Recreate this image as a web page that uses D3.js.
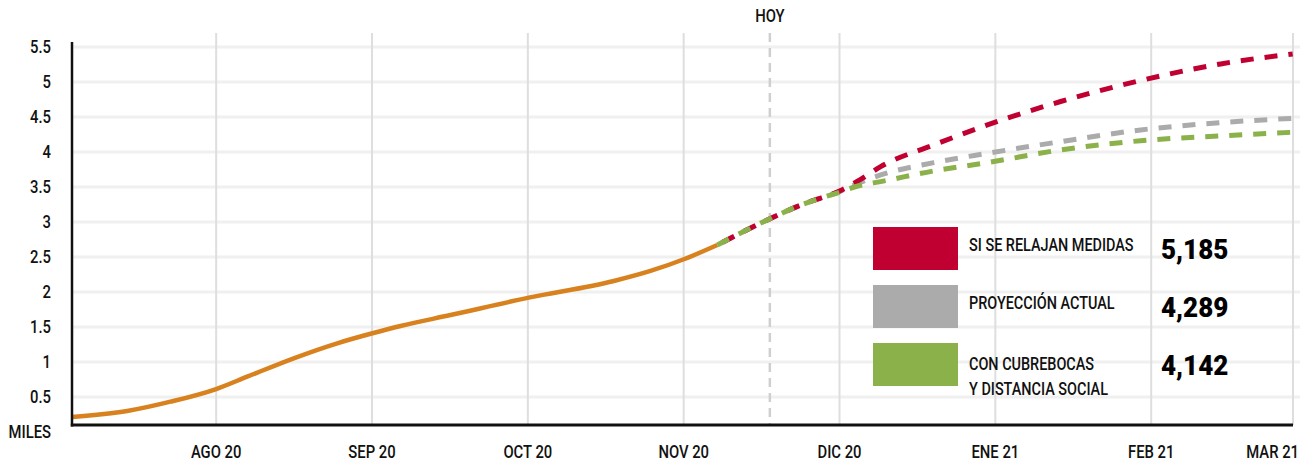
<!DOCTYPE html>
<html><head><meta charset="utf-8">
<script src="https://cdn.jsdelivr.net/npm/d3@7"></script>
<style>
html,body{margin:0;padding:0;background:#fff;}
svg text{font-family:Roboto,"DejaVu Sans Condensed",sans-serif;font-weight:500;fill:#111;}
</style></head>
<body><svg id="c" width="1300" height="462"></svg>
<script>
// ---- data (x values are months relative to AGO 20 = 0) ----
const monthLabels = ["AGO 20","SEP 20","OCT 20","NOV 20","DIC 20","ENE 21","FEB 21","MAR 21"];
const yTicks = [0.5,1,1.5,2,2.5,3,3.5,4,4.5,5,5.5];
const yTickLabels = ["0.5","1","1.5","2","2.5","3","3.5","4","4.5","5","5.5"];
const yUnit = "MILES";
const todayMonth = 3.553;
const todayLabel = "HOY";
const histMonths = [-0.925,-0.571,-0.293,0,0.199,0.498,0.777,1.003,1.183,1.504,2.006,2.552,2.787,3.001,3.216];
const histValues = [0.215,0.30,0.433,0.614,0.79,1.053,1.267,1.41,1.514,1.67,1.919,2.157,2.30,2.467,2.671];
const projMonths = [3.216,3.537,3.75,4.007,4.13,4.264,4.605,4.949,5.419,5.932,6.446,6.908];
const relaxValues = [2.671,3.029,3.24,3.45,3.60,3.79,4.10,4.386,4.72,5.02,5.257,5.40];
const currentValues = [2.671,3.029,3.24,3.44,3.56,3.671,3.847,3.98,4.147,4.314,4.419,4.48];
const maskValues = [2.671,3.029,3.24,3.43,3.52,3.576,3.729,3.847,4.029,4.16,4.229,4.281];
const seriesNames = ["SI SE RELAJAN MEDIDAS","PROYECCIÓN ACTUAL","CON CUBREBOCAS\nY DISTANCIA SOCIAL"];
const seriesTotals = ["5,185","4,289","4,142"];

// ---- layout ----
const svg = d3.select("#c");
const L = 72, R = 1293, B = 425, T = 42;
const SX = 0.78; // horizontal condensing of text
const x = d3.scaleLinear().domain([-0.925, 6.91]).range([L, R]);
const y = d3.scaleLinear().domain([0.1, 5.57]).range([B, T]);
const colors = {hist:"#d8821f", relax:"#bf0030", current:"#ababab", mask:"#8bb14a"};

function txt(g, tx, ty, s, size, anchor, sx){
  return g.append("text")
    .attr("transform", `translate(${tx},${ty}) scale(${sx===undefined?SX:sx},1)`)
    .attr("text-anchor", anchor || "start").attr("font-size", size).text(s);
}

// horizontal grid
svg.append("g").selectAll("line").data(yTicks).join("line")
  .attr("x1", L).attr("x2", 1300).attr("y1", d=>y(d)).attr("y2", d=>y(d))
  .attr("stroke", "#f0f0f0").attr("stroke-width", 3);

// vertical grid (months + end)
const xTickVals = monthLabels.map((m,i)=> i < monthLabels.length-1 ? i : x.domain()[1]);
svg.append("g").selectAll("line").data(xTickVals).join("line")
  .attr("x1", d=>x(d)).attr("x2", d=>x(d)).attr("y1", 33).attr("y2", B)
  .attr("stroke", "#dedede").attr("stroke-width", 2);

// today line
svg.append("line").attr("x1", x(todayMonth)).attr("x2", x(todayMonth)).attr("y1", 33).attr("y2", B)
  .attr("stroke", "#cfcfcf").attr("stroke-width", 2.5).attr("stroke-dasharray", "9,6");
const tg = svg.append("g");
txt(tg, x(todayMonth), 21.5, todayLabel, 19, "middle");

// y labels
const yg = svg.append("g");
yTicks.forEach((d,i)=> txt(yg, 51, y(d)+6.5, yTickLabels[i], 19, "end"));
txt(yg, 51, 438, yUnit, 19, "end");

// x labels
const xg = svg.append("g");
xTickVals.forEach((d,i)=>{
  const last = i === monthLabels.length-1;
  txt(xg, last ? x(d)+6 : x(d), 457.5, monthLabels[i], 19, last ? "end" : "middle");
});

// lines
const line = d3.line().x(d=>x(d[0])).y(d=>y(d[1])).curve(d3.curveMonotoneX);
svg.append("path").datum(histMonths.map((m,i)=>[m,histValues[i]]))
  .attr("d", line).attr("fill","none").attr("stroke", colors.hist).attr("stroke-width", 4.5);
const proj = [
  {vals: currentValues, c: colors.current, off: -4},
  {vals: relaxValues, c: colors.relax, off: -6},
  {vals: maskValues, c: colors.mask, off: 0}
];
proj.forEach(p=>{
  svg.append("path").datum(projMonths.map((m,i)=>[m,p.vals[i]]))
    .attr("d", line).attr("fill","none").attr("stroke", p.c).attr("stroke-width", 5)
    .attr("stroke-dasharray","13,11").attr("stroke-dashoffset", p.off);
});

// axes
svg.append("line").attr("x1", L).attr("x2", L).attr("y1", T).attr("y2", B+1.5)
  .attr("stroke","#111").attr("stroke-width", 2.5);
svg.append("line").attr("x1", L-1.2).attr("x2", R).attr("y1", B).attr("y2", B)
  .attr("stroke","#111").attr("stroke-width", 3);

// legend
const legColors = [colors.relax, colors.current, colors.mask];
const lg = svg.append("g");
legColors.forEach((c,i)=>{
  const top = 227 + i*58;
  lg.append("rect").attr("x", 873).attr("y", top).attr("width", 85).attr("height", 43).attr("fill", c);
  const lines = seriesNames[i].split("\n");
  const base = lines.length === 1 ? top + 24 : top + 27;
  lines.forEach((t,j)=> txt(lg, 969, base + j*24.5, t, 18.5, "start"));
  txt(lg, 1161, top + 31.5, seriesTotals[i], 28, "start", 0.93)
    .style("font-weight", 900).style("fill", "#000");
});
</script></body></html>
